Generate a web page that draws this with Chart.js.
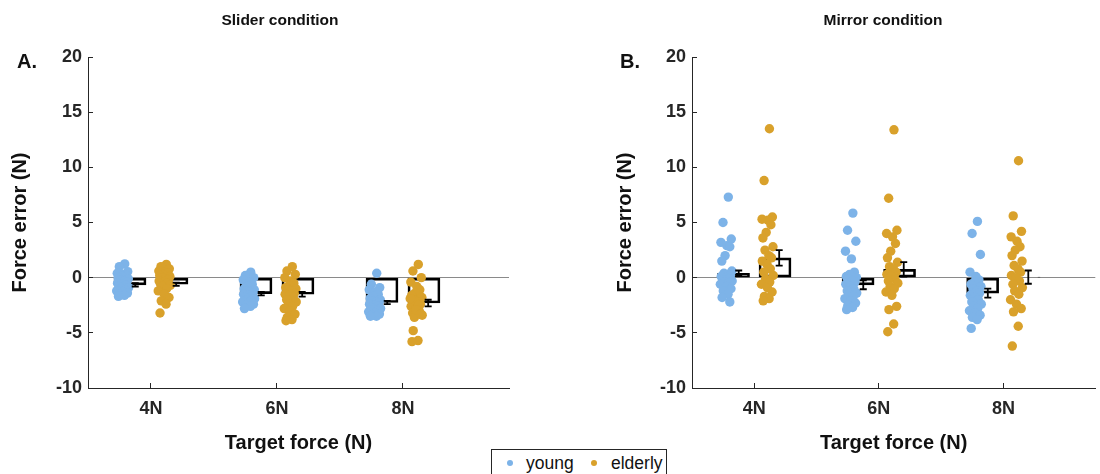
<!DOCTYPE html>
<html>
<head>
<meta charset="utf-8">
<script src="https://cdn.jsdelivr.net/npm/chart.js@4.4.1/dist/chart.umd.min.js"></script>
<style>
  html, body { margin: 0; padding: 0; background: #fff; overflow: hidden; width: 1100px; height: 474px; }
  #wrap { position: relative; width: 1100px; height: 474px; font-family: "Liberation Sans", Arial, Helvetica, sans-serif; color: #111; }
  canvas { position: absolute; top: 0; }
  .ttl { position: absolute; top: 10px; font-weight: bold; font-size: 15.5px; line-height: 20px; transform: translateX(-50%); white-space: nowrap; }
  .tag { position: absolute; top: 49px; font-weight: bold; font-size: 20px; line-height: 24px; }
  #legend { position: absolute; left: 491px; top: 449px; width: 176px; height: 34px; border: 1px solid #262626; background: #fff; box-sizing: border-box; }
  #legend .dot { position: absolute; top: 10px; width: 6px; height: 6px; border-radius: 50%; }
  #legend .lab { position: absolute; top: 2px; font-size: 17.5px; line-height: 22px; color: #111; }
</style>
</head>
<body>
<div id="wrap">
  <canvas id="slider" width="600" height="474" style="left:0"></canvas>
  <canvas id="mirror" width="500" height="474" style="left:600px"></canvas>
  <div class="ttl" style="left:280px">Slider condition</div>
  <div class="ttl" style="left:883px">Mirror condition</div>
  <div class="tag" style="left:17px">A.</div>
  <div class="tag" style="left:620px">B.</div>
  <div id="legend">
    <div class="dot" style="left:15px;background:#7DB3E8"></div>
    <div class="lab" style="left:34px">young</div>
    <div class="dot" style="left:99px;background:#D9A12B"></div>
    <div class="lab" style="left:119px">elderly</div>
  </div>
</div>
<script>
// Target forces on the x axis
const categories = ['4N', '6N', '8N'];
const targetForce = [4, 6, 8];
const yTicks = [-10, -5, 0, 5, 10, 15, 20];

// Slider condition: individual force errors (N)
const sliderYoung4 = [1.25, 1.0, 0.55, 0.4, 0.3, 0.2, 0.1, 0.0, -0.1, -0.2, -0.3, -0.4, -0.5, -0.6, -0.7, -0.8, -0.9, -1.0, -1.1, -1.2, -1.3, -1.4, -1.5, -1.6, -1.7];
const sliderYoung6 = [0.5, 0.2, 0.0, -0.2, -0.4, -0.6, -0.8, -1.0, -1.1, -1.2, -1.3, -1.4, -1.5, -1.6, -1.7, -1.8, -1.9, -2.0, -2.1, -2.2, -2.3, -2.4, -2.5, -2.6, -2.8];
const sliderYoung8 = [0.4, -0.6, -0.9, -1.1, -1.3, -1.5, -1.7, -1.9, -2.0, -2.1, -2.2, -2.3, -2.4, -2.5, -2.6, -2.7, -2.8, -2.9, -3.0, -3.1, -3.2, -3.3, -3.4, -3.5, -3.5];
const sliderElderly4 = [1.2, 1.0, 0.8, 0.6, 0.5, 0.4, 0.3, 0.2, 0.1, 0.0, -0.1, -0.2, -0.3, -0.4, -0.5, -0.6, -0.7, -0.8, -1.0, -1.2, -1.5, -1.8, -2.1, -2.4, -3.2];
const sliderElderly6 = [1.0, 0.6, 0.3, 0.0, -0.3, -0.5, -0.7, -0.9, -1.0, -1.1, -1.2, -1.4, -1.5, -1.6, -1.8, -2.0, -2.2, -2.4, -2.6, -2.8, -3.0, -3.3, -3.6, -3.8, -3.9];
const sliderElderly8 = [1.2, 0.6, 0.0, -0.4, -0.8, -1.1, -1.4, -1.6, -1.8, -2.0, -2.2, -2.4, -2.6, -2.8, -3.0, -3.2, -3.4, -3.6, -2.5, -1.9, -2.9, -3.3, -4.8, -5.7, -5.8];

// Mirror condition: individual force errors (N)
const mirrorYoung4 = [7.3, 5.0, 3.5, 3.2, 2.9, 2.8, 2.0, 1.5, 0.6, 0.4, 0.3, 0.2, 0.1, 0.0, -0.1, -0.2, -0.3, -0.4, -0.5, -0.6, -0.8, -1.0, -1.2, -1.5, -1.8, -2.2];
const mirrorYoung6 = [5.85, 4.3, 3.3, 2.4, 1.7, 0.5, 0.3, 0.1, 0.0, -0.1, -0.3, -0.4, -0.6, -0.8, -1.0, -1.2, -1.4, -1.5, -1.7, -1.9, -2.1, -2.3, -2.5, -2.7, -2.9];
const mirrorYoung8 = [5.1, 4.0, 2.1, 0.5, 0.1, -0.2, -0.4, -0.6, -0.8, -1.0, -1.2, -1.4, -1.6, -1.8, -2.0, -2.2, -2.4, -2.6, -2.8, -3.0, -3.2, -3.4, -3.6, -3.8, -4.6];
const mirrorElderly4 = [13.5, 8.8, 5.5, 5.3, 5.2, 4.8, 4.1, 3.6, 2.8, 2.5, 2.0, 1.8, 1.5, 1.2, 0.8, 0.5, 0.2, -0.1, -0.4, -0.6, -0.9, -1.3, -1.7, -1.9, -2.1];
const mirrorElderly6 = [13.4, 7.2, 4.3, 4.0, 3.7, 3.1, 2.4, 1.8, 1.4, 1.0, 0.8, 0.5, 0.3, 0.1, -0.1, -0.3, -0.5, -0.8, -1.0, -1.3, -1.6, -2.6, -2.9, -4.2, -4.9];
const mirrorElderly8 = [10.6, 5.6, 4.2, 3.7, 3.3, 2.8, 2.5, 2.0, 1.5, 1.1, 0.8, 0.5, 0.2, 0.0, -0.3, -0.6, -0.9, -1.2, -1.5, -2.0, -2.4, -2.8, -3.1, -4.4, -6.2];

// Group means and standard errors (N)
const sliderYoungMean = [-0.65, -1.45, -2.25];
const sliderYoungSem = [0.15, 0.15, 0.15];
const sliderElderlyMean = [-0.6, -1.5, -2.3];
const sliderElderlySem = [0.15, 0.22, 0.3];
const mirrorYoungMean = [0.4, -0.65, -1.4];
const mirrorYoungSem = [0.25, 0.4, 0.4];
const mirrorElderlyMean = [1.8, 0.75, 0.05];
const mirrorElderlySem = [0.7, 0.65, 0.6];

// Horizontal scatter of the individual dots within each group
const jitter = [0.35, -0.55, 0.85, -0.9, 0.1, 0.6, -0.2, -0.75, 0.95, -0.4, 0.25, 0.7, -0.85, -0.05, 0.5, -0.6, 1.0, -0.3, 0.4, -1.0, 0.0, 0.8, -0.5, 0.3, -0.7, 0.6, -0.15, 0.9, -0.35, 0.15];

const FONT = '"Liberation Sans", Arial, Helvetica, sans-serif';
const INK = '#262626';
const BLUE = '#7DB3E8';
const GOLD = '#D9A12B';

// Offsets (in x units) of dots, bars and error bars around each target force
const DOT_OFF = { young: -0.45, elderly: 0.21 };
const DOT_SPREAD = 0.095;
const BAR_OFF = { young: -0.333, elderly: 0.333 };
const ERR_OFF = { young: -0.25, elderly: 0.4 };

function dots(groups, off) {
  const pts = [];
  groups.forEach((vals, i) => {
    vals.forEach((v, k) => pts.push({ x: targetForce[i] + off + jitter[k % jitter.length] * DOT_SPREAD, y: v }));
  });
  return pts;
}

function bars(youngMean, elderlyMean) {
  const out = [];
  targetForce.forEach((t, i) => {
    out.push({ x: t + BAR_OFF.young, y: youngMean[i] });
    out.push({ x: t + BAR_OFF.elderly, y: elderlyMean[i] });
  });
  return out;
}

function errorBars(groups) {
  return {
    id: 'errorBars',
    afterDatasetsDraw(chart) {
      const { ctx, scales: { x, y } } = chart;
      ctx.save();
      ctx.strokeStyle = '#000';
      ctx.lineWidth = 1.8;
      groups.forEach(g => {
        g.mean.forEach((m, i) => {
          const px = x.getPixelForValue(targetForce[i] + g.off);
          const hi = y.getPixelForValue(m + g.sem[i]);
          const lo = y.getPixelForValue(m - g.sem[i]);
          ctx.beginPath();
          ctx.moveTo(px, hi); ctx.lineTo(px, lo);
          ctx.moveTo(px - 3.5, hi); ctx.lineTo(px + 3.5, hi);
          ctx.moveTo(px - 3.5, lo); ctx.lineTo(px + 3.5, lo);
          ctx.stroke();
        });
      });
      ctx.restore();
    }
  };
}

function panel(id, cfg) {
  return new Chart(document.getElementById(id), {
    type: 'scatter',
    data: {
      datasets: [
        {
          type: 'bar', label: 'mean', data: bars(cfg.youngMean, cfg.elderlyMean),
          backgroundColor: 'rgba(0,0,0,0)', borderColor: '#000', borderWidth: 2,
          borderSkipped: false, barThickness: 32, order: 3
        },
        {
          label: 'young', data: dots(cfg.young, DOT_OFF.young),
          backgroundColor: BLUE, borderWidth: 0, pointRadius: 4.7, order: 2
        },
        {
          label: 'elderly', data: dots(cfg.elderly, DOT_OFF.elderly),
          backgroundColor: GOLD, borderWidth: 0, pointRadius: 4.7, order: 1
        }
      ]
    },
    options: {
      responsive: false,
      animation: false,
      events: [],
      layout: { padding: { left: 0, top: 57, right: cfg.padRight, bottom: 0 } },
      plugins: { legend: { display: false }, tooltip: { enabled: false }, title: { display: false } },
      scales: {
        x: {
          type: 'linear', min: 3, max: cfg.xMax, offset: false,
          afterBuildTicks: s => { s.ticks = targetForce.map(v => ({ value: v })); },
          afterFit: s => { s.height = 86; },
          ticks: {
            callback: v => categories[targetForce.indexOf(v)],
            color: INK, font: { family: FONT, size: 18, weight: 'bold' }, padding: 15,
            maxRotation: 0, autoSkip: false
          },
          grid: { offset: false, drawOnChartArea: false, drawTicks: true, tickLength: -5, tickColor: INK, tickWidth: 1 },
          border: { display: true, color: INK, width: 1 },
          title: {
            display: true, text: 'Target force (N)', color: '#111',
            font: { family: FONT, size: 20, weight: 'bold' }, padding: { top: 0, bottom: 19 }
          }
        },
        y: {
          min: -10, max: 20,
          afterBuildTicks: s => { s.ticks = yTicks.map(v => ({ value: v })); },
          afterFit: s => { s.width = cfg.yWidth; },
          ticks: { color: INK, font: { family: FONT, size: 18, weight: 'bold' }, padding: 11 },
          grid: {
            drawOnChartArea: true, drawTicks: true, tickLength: -5, tickColor: INK, tickWidth: 1, lineWidth: 1,
            color: c => (c.tick && c.tick.value === 0) ? '#8a8a8a' : 'rgba(0,0,0,0)'
          },
          border: { display: true, color: INK, width: 1 },
          title: {
            display: true, text: 'Force error (N)', color: '#111',
            font: { family: FONT, size: 20, weight: 'bold' }, padding: { top: cfg.titlePad, bottom: 0 }
          }
        }
      }
    },
    plugins: [errorBars([
      { mean: cfg.youngMean, sem: cfg.youngSem, off: ERR_OFF.young },
      { mean: cfg.elderlyMean, sem: cfg.elderlySem, off: ERR_OFF.elderly }
    ])]
  });
}

panel('slider', {
  young: [sliderYoung4, sliderYoung6, sliderYoung8],
  elderly: [sliderElderly4, sliderElderly6, sliderElderly8],
  youngMean: sliderYoungMean, youngSem: sliderYoungSem,
  elderlyMean: sliderElderlyMean, elderlySem: sliderElderlySem,
  xMax: 9.683, padRight: 91, yWidth: 88, titlePad: 8
});

panel('mirror', {
  young: [mirrorYoung4, mirrorYoung6, mirrorYoung8],
  elderly: [mirrorElderly4, mirrorElderly6, mirrorElderly8],
  youngMean: mirrorYoungMean, youngSem: mirrorYoungSem,
  elderlyMean: mirrorElderlyMean, elderlySem: mirrorElderlySem,
  xMax: 9.476, padRight: 0, yWidth: 92, titlePad: 13
});
</script>
</body>
</html>
